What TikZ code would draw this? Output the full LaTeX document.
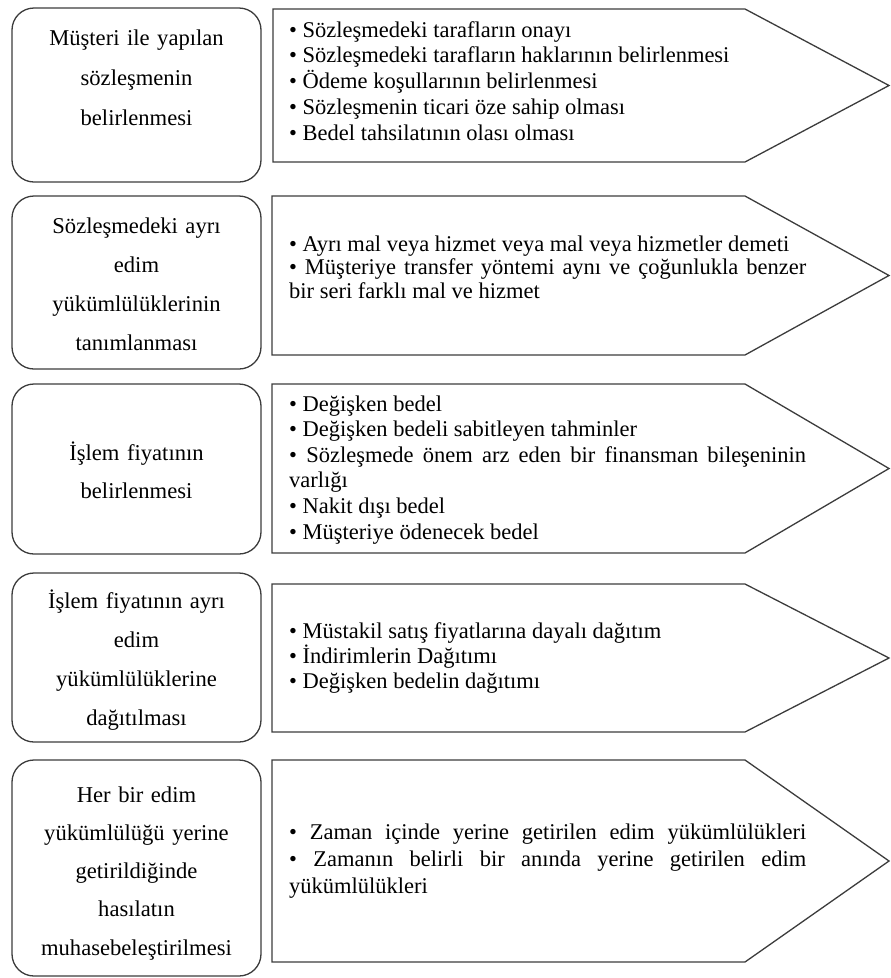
\documentclass[tikz,border=0pt]{standalone}
\usepackage{fontspec}
\setmainfont{Liberation Serif}
\definecolor{edgegray}{RGB}{60,60,60}
\tikzset{
  stagebox/.style={draw=edgegray, line width=1.3pt, rounded corners=22pt, fill=white},
  detailshape/.style={draw=edgegray, line width=1.3pt, fill=white, line join=miter},
  stagetext/.style={text width=246pt, align=center, inner sep=0pt, anchor=base,
    font=\fontsize{22.6}{39}\selectfont},
  detailtext/.style={text width=517pt, align=justify, inner sep=0pt, anchor=base west,
    font=\fontsize{22.5}{25.8}\selectfont},
}
\begin{document}
\begin{tikzpicture}[x=1pt, y=-1pt]
\useasboundingbox (0,0) rectangle (891,978);

% ---- stage boxes (left column) ----
\draw[stagebox] (12,8)   rectangle (261,182);
\draw[stagebox] (12,196) rectangle (261,369);
\draw[stagebox] (12,384) rectangle (261,554);
\draw[stagebox] (12,573) rectangle (261,742);
\draw[stagebox] (12,760) rectangle (261,976);

% ---- detail pentagons (right column) ----
\draw[detailshape] (273,9)   -- (745,9)   -- (889,85.5) -- (745,162) -- (273,162) -- cycle;
\draw[detailshape] (272,196) -- (745,196) -- (889,275.5) -- (745,355) -- (272,355) -- cycle;
\draw[detailshape] (272,384) -- (745,384) -- (889,468.5) -- (745,553) -- (272,553) -- cycle;
\draw[detailshape] (272,584) -- (745,584) -- (889,658)   -- (745,732) -- (272,732) -- cycle;
\draw[detailshape] (272,760) -- (745,760) -- (889,861)   -- (745,962) -- (272,962) -- cycle;

% ---- stage titles ----
\node[stagetext, font=\fontsize{22.6}{40}\selectfont] (s1) at (136.5,45)
  {Müşteri ile yapılan\\sözleşmenin\\belirlenmesi};
\node[stagetext] (s2) at (136.5,233)
  {Sözleşmedeki ayrı\\edim\\yükümlülüklerinin\\tanımlanması};
\node[stagetext, font=\fontsize{22.6}{38}\selectfont] (s3) at (136.5,460)
  {İşlem fiyatının\\belirlenmesi};
\node[stagetext] (s4) at (136.5,608)
  {İşlem fiyatının ayrı\\edim\\yükümlülüklerine\\dağıtılması};
\node[stagetext, font=\fontsize{22.6}{38.3}\selectfont] (s5) at (136.5,802)
  {Her bir edim\\yükümlülüğü yerine\\getirildiğinde\\hasılatın\\muhasebeleştirilmesi};

% ---- detail lists ----
\node[detailtext] (d1) at (289,37)
  {• Sözleşmedeki tarafların onayı\par
   • Sözleşmedeki tarafların haklarının belirlenmesi\par
   • Ödeme koşullarının belirlenmesi\par
   • Sözleşmenin ticari öze sahip olması\par
   • Bedel tahsilatının olası olması};
\node[detailtext, font=\fontsize{22.5}{23.5}\selectfont] (d2) at (289,251)
  {• Ayrı mal veya hizmet veya mal veya hizmetler demeti\par
   • Müşteriye transfer yöntemi aynı ve çoğunlukla benzer\linebreak
   bir seri farklı mal ve hizmet};
\node[detailtext, font=\fontsize{22.5}{25.6}\selectfont] (d3) at (289,411)
  {• Değişken bedel\par
   • Değişken bedeli sabitleyen tahminler\par
   • Sözleşmede önem arz eden bir finansman bileşeninin\linebreak
   varlığı\par
   • Nakit dışı bedel\par
   • Müşteriye ödenecek bedel};
\node[detailtext, font=\fontsize{22.5}{25}\selectfont] (d4) at (289,638)
  {• Müstakil satış fiyatlarına dayalı dağıtım\par
   • İndirimlerin Dağıtımı\par
   • Değişken bedelin dağıtımı};
\node[detailtext, font=\fontsize{22.5}{27}\selectfont] (d5) at (289,839)
  {• Zaman içinde yerine getirilen edim yükümlülükleri\linebreak
   • Zamanın belirli bir anında yerine getirilen edim\linebreak
   yükümlülükleri};
\end{tikzpicture}
\end{document}
